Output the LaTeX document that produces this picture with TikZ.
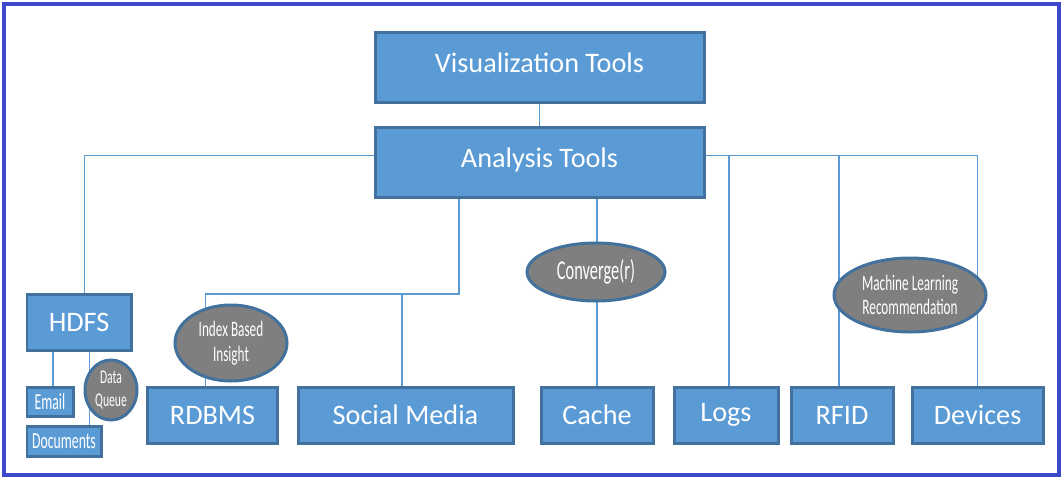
\documentclass[tikz,border=0pt]{standalone}
\usepackage{fontspec}
\setmainfont{Carlito}
\newfontfamily\slim[FakeStretch=0.6]{Carlito}
\usetikzlibrary{backgrounds,shapes.geometric}
\definecolor{boxblue}{RGB}{91,155,213}
\definecolor{edgeblue}{RGB}{65,113,156}
\definecolor{bubblegray}{RGB}{127,127,127}
\definecolor{framecol}{RGB}{63,72,204}
\newcommand\pxu{0.567pt}
\tikzset{
  box/.style={draw=edgeblue,line width=1.7pt,fill=boxblue,text=white,inner sep=0pt,
    font=\fontsize{16}{19}\selectfont},
  smallbox/.style={box,font=\slim\fontsize{13}{15}\selectfont},
  bubble/.style={ellipse,draw=edgeblue,line width=1.7pt,fill=bubblegray,text=white,
    inner sep=0pt,align=center,font=\slim\fontsize{12.5}{14}\selectfont},
  link/.style={draw=boxblue,line width=0.6pt}
}
\begin{document}
\begin{tikzpicture}[x=\pxu,y=-\pxu]
\useasboundingbox (0,0) rectangle (1063,479);
\draw[framecol,line width=2.4pt] (4,4) rectangle (1059,475);

\node[box,minimum width=329*\pxu,minimum height=70*\pxu] (vis) at (539.5,67.5) {\raisebox{5.5pt}{Visualization Tools}};
\node[box,minimum width=329*\pxu,minimum height=70*\pxu] (ana) at (539.5,162.5) {\raisebox{5.5pt}{Analysis Tools}};

\node[box,minimum width=104*\pxu,minimum height=56*\pxu] (hdfs) at (79,322) {HDFS};
\node[smallbox,minimum width=46*\pxu,minimum height=29*\pxu] (email) at (50,401.5) {Email};
\node[smallbox,minimum width=74*\pxu,minimum height=30*\pxu] (docs) at (64,441) {Documents};

\node[box,minimum width=130*\pxu,minimum height=56*\pxu] (rdb) at (212.5,415) {RDBMS};
\node[box,minimum width=215*\pxu,minimum height=56*\pxu] (soc) at (405.5,415) {Social Media};
\node[box,minimum width=112*\pxu,minimum height=56*\pxu] (cache) at (597,415) {Cache};
\node[box,minimum width=104*\pxu,minimum height=56*\pxu] (logs) at (726,415) {Logs};
\node[box,minimum width=102*\pxu,minimum height=56*\pxu] (rfid) at (842,415) {RFID};
\node[box,minimum width=131*\pxu,minimum height=56*\pxu] (dev) at (977.5,415) {Devices};

\node[bubble,minimum width=52*\pxu,minimum height=60*\pxu,font=\slim\fontsize{11}{13}\selectfont] (dq) at (111,390) {Data\\Queue};
\node[bubble,minimum width=112*\pxu,minimum height=76*\pxu] (idx) at (231,343) {Index Based\\Insight};
\node[bubble,minimum width=138*\pxu,minimum height=58*\pxu,font=\slim\fontsize{15.5}{17}\selectfont] (conv) at (596,272) {Converge(r)};
\node[bubble,minimum width=152*\pxu,minimum height=74*\pxu] (ml) at (910,295) {Machine Learning\\Recommendation};

\coordinate (bus) at (459,294);

\begin{scope}[on background layer]
\draw[link] (vis) -- (ana);
\draw[link] ([yshift=4pt]ana.west) -| ([xshift=3pt]hdfs.north);
\draw[link] ([yshift=4pt]ana.east) -| (dev.north);
\draw[link] ([yshift=4pt]ana.east) -| ([xshift=1.7pt]logs.north);
\draw[link] ([yshift=4pt]ana.east) -| ([xshift=-1.7pt]rfid.north);
\draw[link] (bus |- ana.south) -- (bus) -| ([xshift=-4pt]rdb.north);
\draw[link] (bus) -| ([xshift=-2pt]soc.north);
\draw[link] (cache.north |- ana.south) -- (cache.north);
\draw[link] ([xshift=1.7pt]email.north |- hdfs.south) -- ([xshift=1.7pt]email.north);
\draw[link] ([xshift=5.7pt]hdfs.south) -- ([xshift=5.7pt]hdfs.south |- docs.north);
\end{scope}
\end{tikzpicture}
\end{document}
